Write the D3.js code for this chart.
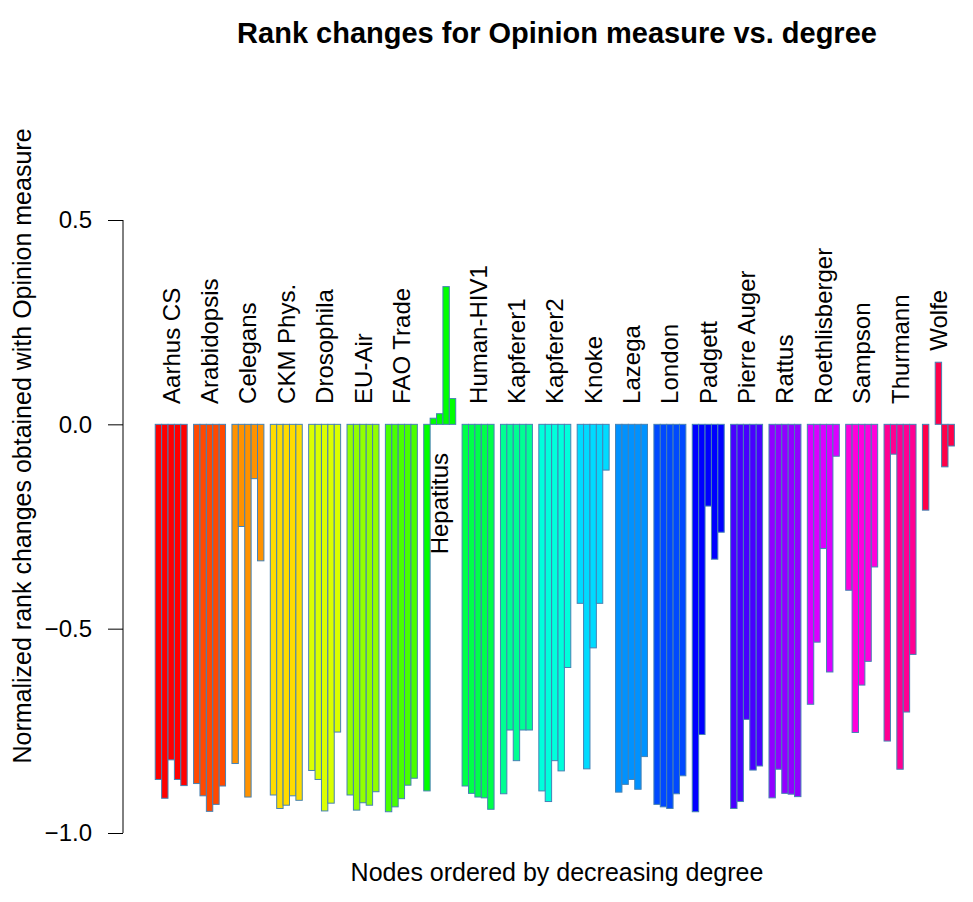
<!DOCTYPE html>
<html>
<head>
<meta charset="utf-8">
<script src="https://cdn.jsdelivr.net/npm/d3@7"></script>
<style>
  html, body { margin: 0; padding: 0; background: #fff; }
  svg { display: block; font-family: "Liberation Sans", Arial, Helvetica, sans-serif; }
</style>
</head>
<body>
<svg id="chart" width="973" height="902"></svg>
<script>
// ---- data ----
const groups = ["Aarhus CS","Arabidopsis","Celegans","CKM Phys.","Drosophila","EU-Air","FAO Trade","Hepatitus","Human-HIV1","Kapferer1","Kapferer2","Knoke","Lazega","London","Padgett","Pierre Auger","Rattus","Roethlisberger","Sampson","Thurmann","Wolfe"];

const aarhus      = [-0.869,-0.915,-0.821,-0.869,-0.884];
const arabidopsis = [-0.879,-0.909,-0.947,-0.930,-0.885];
const celegans    = [-0.830,-0.250,-0.912,-0.133,-0.334];
const ckm         = [-0.907,-0.940,-0.932,-0.909,-0.920];
const drosophila  = [-0.847,-0.869,-0.946,-0.927,-0.753];
const euair       = [-0.907,-0.944,-0.926,-0.932,-0.899];
const fao         = [-0.948,-0.936,-0.916,-0.883,-0.866];
const hepatitus   = [-0.897, 0.015, 0.026, 0.337, 0.063];
const humanhiv    = [-0.885,-0.903,-0.912,-0.914,-0.942];
const kapferer1   = [-0.904,-0.748,-0.823,-0.748,-0.748];
const kapferer2   = [-0.897,-0.923,-0.823,-0.848,-0.595];
const knoke       = [-0.438,-0.843,-0.547,-0.438,-0.112];
const lazega      = [-0.900,-0.881,-0.869,-0.893,-0.813];
const london      = [-0.930,-0.936,-0.940,-0.904,-0.860];
const padgett     = [-0.948,-0.759,-0.200,-0.330,-0.264];
const pierre      = [-0.940,-0.923,-0.722,-0.846,-0.836];
const rattus      = [-0.914,-0.844,-0.903,-0.905,-0.911];
const roeth       = [-0.685,-0.533,-0.304,-0.606,-0.078];
const sampson     = [-0.406,-0.754,-0.638,-0.580,-0.349];
const thurmann    = [-0.775,-0.073,-0.844,-0.704,-0.563];
const wolfe       = [-0.210, 0.000, 0.152,-0.104,-0.053];

const seriesValues = [aarhus, arabidopsis, celegans, ckm, drosophila, euair, fao, hepatitus, humanhiv, kapferer1, kapferer2, knoke, lazega, london, padgett, pierre, rattus, roeth, sampson, thurmann, wolfe];

// label anchor positions (data units) and whether label hangs below that point
const labelY     = [0.05,0.05,0.05,0.05,0.05,0.05,0.05,-0.07,0.05,0.05,0.05,0.05,0.05,0.05,0.05,0.05,0.05,0.05,0.05,0.05,0.18];
const labelBelow = [false,false,false,false,false,false,false,true,false,false,false,false,false,false,false,false,false,false,false,false,false];

const yTicks = [-1.0, -0.5, 0.0, 0.5];

const title  = "Rank changes for Opinion measure vs. degree";
const xTitle = "Nodes ordered by decreasing degree";
const yTitle = "Normalized rank changes obtained with Opinion measure";

// ---- layout ----
const svg = d3.select("#chart");
const slotsPerGroup = 6;
const nSlots = groups.length * slotsPerGroup;
const x = d3.scaleLinear().domain([-0.04 * nSlots, nSlots * 1.04]).range([123, 993]);
const y = d3.scaleLinear().domain([-1.0, 0.5]).range([833, 220]);

const colors = groups.map((g, i) => d3.hsl(i / groups.length * 360, 1, 0.5).formatHex());

const bars = [];
seriesValues.forEach((vals, gi) => {
  vals.forEach((v, bi) => {
    bars.push({ g: gi, slot: gi * slotsPerGroup + bi, v: v });
  });
});

svg.append("rect").attr("width", 973).attr("height", 902).attr("fill", "#fff");

svg.append("g").selectAll("rect").data(bars).enter().append("rect")
  .attr("x", d => x(d.slot))
  .attr("width", d => x(d.slot + 1) - x(d.slot))
  .attr("y", d => y(Math.max(0, d.v)))
  .attr("height", d => Math.abs(y(d.v) - y(0)))
  .attr("fill", d => colors[d.g])
  .attr("stroke", "#4682b4")
  .attr("stroke-width", 1);

// group labels
svg.append("g").selectAll("text").data(groups).enter().append("text")
  .attr("transform", (d, i) => {
    const cx = (x(i * slotsPerGroup) + x(i * slotsPerGroup + 5)) / 2;
    return `translate(${cx},${y(labelY[i])}) rotate(-90)`;
  })
  .attr("text-anchor", (d, i) => labelBelow[i] ? "end" : "start")
  .attr("dominant-baseline", "central")
  .attr("font-size", 24)
  .attr("fill", "#000")
  .text(d => d);

// y axis (R style)
const yAxis = d3.axisLeft(y).tickValues(yTicks).tickFormat(d3.format(".1f")).tickSize(15).tickPadding(16);
const ag = svg.append("g").attr("transform", "translate(123,0)").call(yAxis);
ag.select(".domain").attr("d", `M-0,${y(0.5)}V${y(-1)}`).attr("stroke", "#000");
ag.selectAll(".tick line").attr("stroke", "#000");
ag.selectAll(".tick text").attr("font-size", 24).attr("fill", "#000")
  .attr("font-family", "'Liberation Sans', Arial, sans-serif");

// titles
svg.append("text").attr("x", 557).attr("y", 33)
  .attr("text-anchor", "middle").attr("dominant-baseline", "central")
  .attr("font-size", 29).attr("font-weight", "bold").text(title);

svg.append("text").attr("x", 557).attr("y", 872)
  .attr("text-anchor", "middle").attr("dominant-baseline", "central")
  .attr("font-size", 25).text(xTitle);

svg.append("text").attr("transform", "translate(22,446) rotate(-90)")
  .attr("text-anchor", "middle").attr("dominant-baseline", "central")
  .attr("font-size", 25).text(yTitle);
</script>
</body>
</html>
